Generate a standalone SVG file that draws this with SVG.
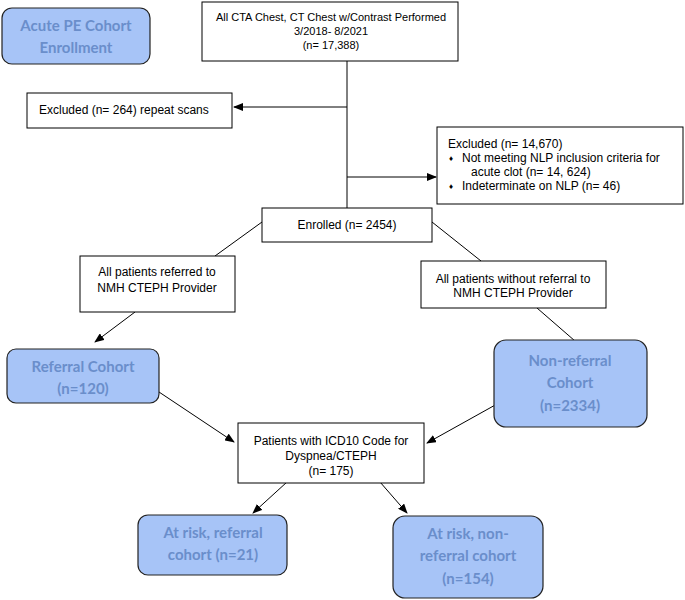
<svg xmlns="http://www.w3.org/2000/svg" width="685" height="600" viewBox="0 0 685 600">
<defs>
<marker id="ah" markerWidth="10" markerHeight="8" refX="9" refY="4" orient="auto" markerUnits="userSpaceOnUse">
<path d="M0,0 L10,4 L0,8 z" fill="#000"/>
</marker>
<style>
.box{fill:#fff;stroke:#000;stroke-width:1}
.blue{fill:#a7c4f7;stroke:#222;stroke-width:1.2}
.t{font-family:"Liberation Sans",Arial,sans-serif;font-size:12px;fill:#000}
.s{font-size:11px}
.b{font-size:8px}
.bt{font-family:Lato,"Open Sans",sans-serif;font-weight:bold;font-size:15px;fill:#6a8ecb}
.ln{stroke:#000;stroke-width:1;fill:none}
</style>
</defs>
<rect width="685" height="600" fill="#fff"/>
<g id="connectors">
<line class="ln" x1="347" y1="61" x2="347" y2="208"/>
<line class="ln" x1="347" y1="107" x2="234" y2="107" marker-end="url(#ah)"/>
<line class="ln" x1="347" y1="177" x2="436" y2="177" marker-end="url(#ah)"/>
<line class="ln" x1="262" y1="222" x2="215" y2="256"/>
<line class="ln" x1="432" y1="222" x2="481" y2="261"/>
<line class="ln" x1="135" y1="312" x2="95" y2="342" marker-end="url(#ah)"/>
<line class="ln" x1="537" y1="308" x2="575" y2="341"/>
<line class="ln" x1="159" y1="392" x2="234" y2="442" marker-end="url(#ah)"/>
<line class="ln" x1="497" y1="404" x2="427" y2="443" marker-end="url(#ah)"/>
<line class="ln" x1="287" y1="482" x2="253" y2="513" marker-end="url(#ah)"/>
<line class="ln" x1="380" y1="482" x2="407" y2="513" marker-end="url(#ah)"/>
</g>
<g id="acute">
<rect class="blue" x="2" y="8" width="148" height="56" rx="10"/>
<text class="bt" x="76" y="31" text-anchor="middle">Acute PE Cohort</text>
<text class="bt" x="76" y="53" text-anchor="middle">Enrollment</text>
</g>
<g id="all">
<rect class="box" x="202" y="2" width="256" height="59"/>
<text class="t s" x="331" y="21" text-anchor="middle">All CTA Chest, CT Chest w/Contrast Performed</text>
<text class="t s" x="331" y="35" text-anchor="middle">3/2018- 8/2021</text>
<text class="t s" x="331" y="49" text-anchor="middle">(n= 17,388)</text>
</g>
<g id="excl1">
<rect class="box" x="27" y="93" width="205" height="35"/>
<text class="t" x="39" y="114">Excluded (n= 264) repeat scans</text>
</g>
<g id="excl2">
<rect class="box" x="437" y="127" width="246" height="77"/>
<text class="t" x="448" y="148">Excluded (n= 14,670)</text>
<text class="t b" x="449" y="161">♦</text>
<text class="t" x="462" y="162">Not meeting NLP inclusion criteria for</text>
<text class="t" x="471" y="176">acute clot (n= 14, 624)</text>
<text class="t b" x="449" y="189">♦</text>
<text class="t" x="462" y="190">Indeterminate on NLP (n= 46)</text>
</g>
<g id="enrolled">
<rect class="box" x="262" y="208" width="170" height="34"/>
<text class="t" x="347" y="229" text-anchor="middle">Enrolled (n= 2454)</text>
</g>
<g id="referred">
<rect class="box" x="80" y="256" width="155" height="56"/>
<text class="t" x="157" y="276" text-anchor="middle">All patients referred to</text>
<text class="t" x="157" y="292" text-anchor="middle">NMH CTEPH Provider</text>
</g>
<g id="without">
<rect class="box" x="421" y="261" width="185" height="47"/>
<text class="t" x="513" y="283" text-anchor="middle">All patients without referral to</text>
<text class="t" x="513" y="297" text-anchor="middle">NMH CTEPH Provider</text>
</g>
<g id="refcohort">
<rect class="blue" x="7" y="349" width="152" height="54" rx="9"/>
<text class="bt" x="83" y="372" text-anchor="middle">Referral Cohort</text>
<text class="bt" x="83" y="394" text-anchor="middle">(n=120)</text>
</g>
<g id="nonref">
<rect class="blue" x="494" y="340" width="153" height="87" rx="12"/>
<text class="bt" x="570" y="366" text-anchor="middle">Non-referral</text>
<text class="bt" x="570" y="388" text-anchor="middle">Cohort</text>
<text class="bt" x="570" y="411" text-anchor="middle">(n=2334)</text>
</g>
<g id="icd">
<rect class="box" x="238" y="423" width="186" height="60"/>
<text class="t" x="331" y="445" text-anchor="middle">Patients with ICD10 Code for</text>
<text class="t" x="331" y="460" text-anchor="middle">Dyspnea/CTEPH</text>
<text class="t" x="331" y="475" text-anchor="middle">(n= 175)</text>
</g>
<g id="atriskref">
<rect class="blue" x="138" y="515" width="149" height="60" rx="10"/>
<text class="bt" x="213" y="538" text-anchor="middle">At risk, referral</text>
<text class="bt" x="213" y="560" text-anchor="middle">cohort (n=21)</text>
</g>
<g id="atrisknonref">
<rect class="blue" x="393" y="516" width="150" height="82" rx="12"/>
<text class="bt" x="468" y="539" text-anchor="middle">At risk, non-</text>
<text class="bt" x="468" y="561" text-anchor="middle">referral cohort</text>
<text class="bt" x="468" y="584" text-anchor="middle">(n=154)</text>
</g>
</svg>
